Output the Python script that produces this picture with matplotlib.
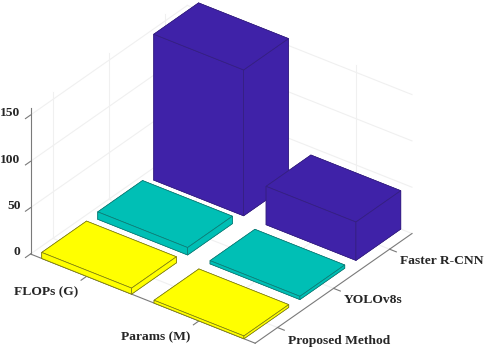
import matplotlib
matplotlib.use("Agg")
import matplotlib.pyplot as plt
from mpl_toolkits.mplot3d import proj3d

metrics = ["FLOPs (G)", "Params (M)"]
methods = ["Proposed Method", "YOLOv8s", "Faster R-CNN"]
flops = [6.5, 8.0, 157.5]
params = [3.0, 3.5, 41.4]
z_ticks = [0, 50, 100, 150]
method_colors = ["#FFFF00", "#00BFB5", "#3F22A8"]
edge_colors = ["#7A7A14", "#0F7A74", "#35207F"]

W, H = 484, 349
XLIM, YLIM, ZLIM = (0.5, 2.5), (0.6, 3.4), (0, 157.6)
plt.rcParams["font.family"] = ["Liberation Serif", "DejaVu Serif"]
plt.rcParams["font.weight"] = "bold"

fig = plt.figure(figsize=(W / 100, H / 100), dpi=100, facecolor="white")
ax = fig.add_axes([0, 0, 1, 1], projection="3d", computed_zorder=False)
ax.set_proj_type("ortho")
ax.view_init(elev=31.8, azim=-53)
ax.set_box_aspect((281.7, 261, 172), zoom=1)
ax.set_xlim(*XLIM, view_margin=0)
ax.set_ylim(*YLIM, view_margin=0)
ax.set_zlim(*ZLIM, view_margin=0)
ax.set_axis_off()
ax.patch.set_alpha(0)


def screen(u, v, z):
    x, y, _ = proj3d.proj_transform(u, v, z, ax.get_proj())
    return ax.transData.transform((x, y))


# fit the axes so the floor corners land where they do in the reference
target_left = (30.5, H - 254)
target_right = (412, H - 233)
for _ in range(3):
    fig.canvas.draw()
    a = screen(XLIM[0], YLIM[0], 0)
    b = screen(XLIM[1], YLIM[1], 0)
    pos = ax.get_position()
    scale = (target_right[0] - target_left[0]) / (b[0] - a[0])
    w_px = pos.width * W * scale
    h_px = pos.height * H * scale
    cx = pos.x0 * W + pos.width * W / 2
    cy = pos.y0 * H + pos.height * H / 2
    ratio_ax = (a[0] - cx) * scale, (a[1] - cy) * scale
    new_cx = target_left[0] - ratio_ax[0]
    new_cy = target_left[1] - ratio_ax[1]
    ax.set_position([(new_cx - w_px / 2) / W, (new_cy - h_px / 2) / H, w_px / W, h_px / H])

GRID = dict(color="#F0F0F0", lw=0.8, zorder=1)
AXIS = dict(color="#7A7A7A", lw=0.8, zorder=2)

for z in z_ticks:
    ax.plot([XLIM[0], XLIM[0]], [YLIM[0], YLIM[1]], [z, z], **GRID)
    ax.plot([XLIM[0], XLIM[1]], [YLIM[1], YLIM[1]], [z, z], **GRID)
for u in range(1, len(metrics) + 1):
    ax.plot([u, u], [YLIM[1], YLIM[1]], ZLIM, **GRID)
    ax.plot([u, u], YLIM, [0, 0], **GRID)
for v in range(1, len(methods) + 1):
    ax.plot([XLIM[0], XLIM[0]], [v, v], ZLIM, **GRID)
    ax.plot(XLIM, [v, v], [0, 0], **GRID)

# visible axis lines and ticks
ax.plot([XLIM[0]] * 2, [YLIM[0]] * 2, ZLIM, **AXIS)
ax.plot(XLIM, [YLIM[0]] * 2, [0, 0], **AXIS)
ax.plot([XLIM[1]] * 2, YLIM, [0, 0], **AXIS)
for u in range(1, len(metrics) + 1):
    ax.plot([u, u], [YLIM[0], YLIM[0] - 0.1], [0, 0], **AXIS)
for v in range(1, len(methods) + 1):
    ax.plot([XLIM[1], XLIM[1] + 0.06], [v, v], [0, 0], **AXIS)
for z in z_ticks:
    ax.plot([XLIM[0]] * 2, [YLIM[0], YLIM[0] - 0.09], [z, z], **AXIS)

# bars, back to front
width = 0.8
zo = 3
for i in reversed(range(len(methods))):
    for j, vals in enumerate((flops, params)):
        ax.bar3d(j + 1 - width / 2, i + 1 - width / 2, 0, width, width, vals[i],
                 color=method_colors[i], edgecolor=edge_colors[i], linewidth=0.5,
                 shade=False, zorder=zo)
        zo += 1

FS = 9.7
TXT = "#262626"
for z, y in zip(z_ticks, [252, 206, 160, 113]):
    fig.text(20.5 / W, 1 - y / H, str(z), ha="right", va="center", fontsize=FS, color=TXT)
for label, (x, y) in zip(metrics, [(46, 292), (156, 337)]):
    fig.text(x / W, 1 - y / H, label, ha="center", va="center", fontsize=FS, color=TXT)
for label, (x, y) in zip(methods, [(288, 341), (344, 300), (400, 261)]):
    fig.text(x / W, 1 - y / H, label, ha="left", va="center", fontsize=FS, color=TXT)

fig.savefig("out.png", dpi=100, facecolor="white")
